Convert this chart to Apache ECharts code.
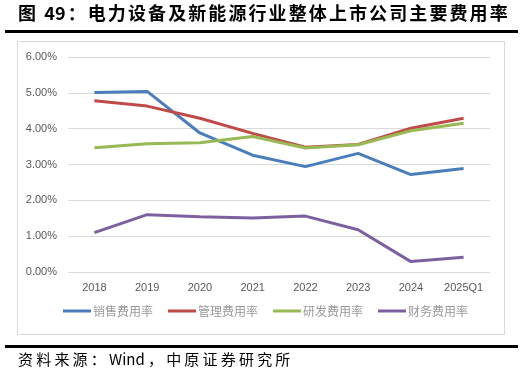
<!DOCTYPE html>
<html><head><meta charset="utf-8">
<script src="https://cdn.jsdelivr.net/npm/echarts@6/dist/echarts.min.js"></script>
<style>html,body{margin:0;padding:0;background:#fff}#c{width:524px;height:378px}</style>
</head><body><div id="c"></div>
<script>
const categories = ['2018','2019','2020','2021','2022','2023','2024','2025Q1'];
const sales   = [5.01, 5.04, 3.88, 3.26, 2.94, 3.31, 2.72, 2.89];
const admin   = [4.78, 4.63, 4.29, 3.87, 3.48, 3.56, 4.01, 4.29];
const rnd     = [3.47, 3.58, 3.61, 3.78, 3.46, 3.55, 3.94, 4.15];
const finance = [1.10, 1.60, 1.54, 1.51, 1.56, 1.18, 0.29, 0.41];
const seriesNames = ['销售费用率','管理费用率','研发费用率','财务费用率'];
const colors = ['#4A7EBB','#BE4B48','#98B954','#7D60A0'];
const title = '图 49：电力设备及新能源行业整体上市公司主要费用率';
const source = '资料来源：Wind，中原证券研究所';

const font = '"Microsoft YaHei","Noto Sans CJK SC",sans-serif';
const ctx = document.createElement('canvas').getContext('2d');
function spaced(text, x, y, f, spacing, fill){
  ctx.font = f;
  const out = [];
  let cx = x;
  const chars = Array.from(text);
  chars.forEach((ch, i) => {
    out.push({type:'text', x:cx, y:y, style:{text:ch, font:f, fill:fill, textVerticalAlign:'top'}});
    const nx = chars[i+1] || '';
    const latin = /[A-Za-z0-9]/.test(ch) && /[A-Za-z0-9]/.test(nx);
    cx += ctx.measureText(ch).width + (latin ? 0 : spacing);
  });
  return out;
}

const chart = echarts.init(document.getElementById('c'), null, {renderer:'canvas'});
const data = [sales, admin, rnd, finance];
chart.setOption({
  animation:false,
  color: colors,
  textStyle:{fontFamily:font},
  grid:{left:68, right:34, top:57, bottom:106},
  legend:{
    bottom:56, left:58, itemWidth:28, itemHeight:3, itemGap:15,
    icon:'rect',
    textStyle:{color:'#999999', fontSize:12, fontFamily:font, padding:[0,0,0,-3]},
    data: seriesNames
  },
  xAxis:{
    type:'category', data:categories, boundaryGap:true,
    axisLine:{show:false}, axisTick:{show:false},
    axisLabel:{color:'#595959', fontSize:11, margin:10, fontFamily:'"Liberation Sans",Arial,sans-serif'}
  },
  yAxis:{
    type:'value', min:0, max:6, interval:1,
    axisLine:{show:false}, axisTick:{show:false},
    splitLine:{lineStyle:{color:'#D9D9D9', width:1}},
    axisLabel:{color:'#595959', fontSize:11, margin:11, formatter:v=>v.toFixed(2)+'%', fontFamily:'"Liberation Sans",Arial,sans-serif'}
  },
  series: seriesNames.map((n,i)=>({
    name:n, type:'line', data:data[i], symbol:'none',
    lineStyle:{width:3, color:colors[i]}, itemStyle:{color:colors[i]}
  })),
  graphic: [].concat(
    spaced(title, 18, 4, 'bold 18px '+font, 2.1, '#000'),
    [
      {type:'rect', shape:{x:5, y:30, width:513, height:3}, style:{fill:'#000'}},
      {type:'rect', shape:{x:17.5, y:41.5, width:487, height:293}, style:{fill:'none', stroke:'#D9D9D9', lineWidth:1}},
      {type:'rect', shape:{x:5, y:345, width:513, height:3}, style:{fill:'#000'}}
    ],
    spaced(source, 18, 352, '15px '+font, 3.2, '#000')
  )
});
</script></body></html>
